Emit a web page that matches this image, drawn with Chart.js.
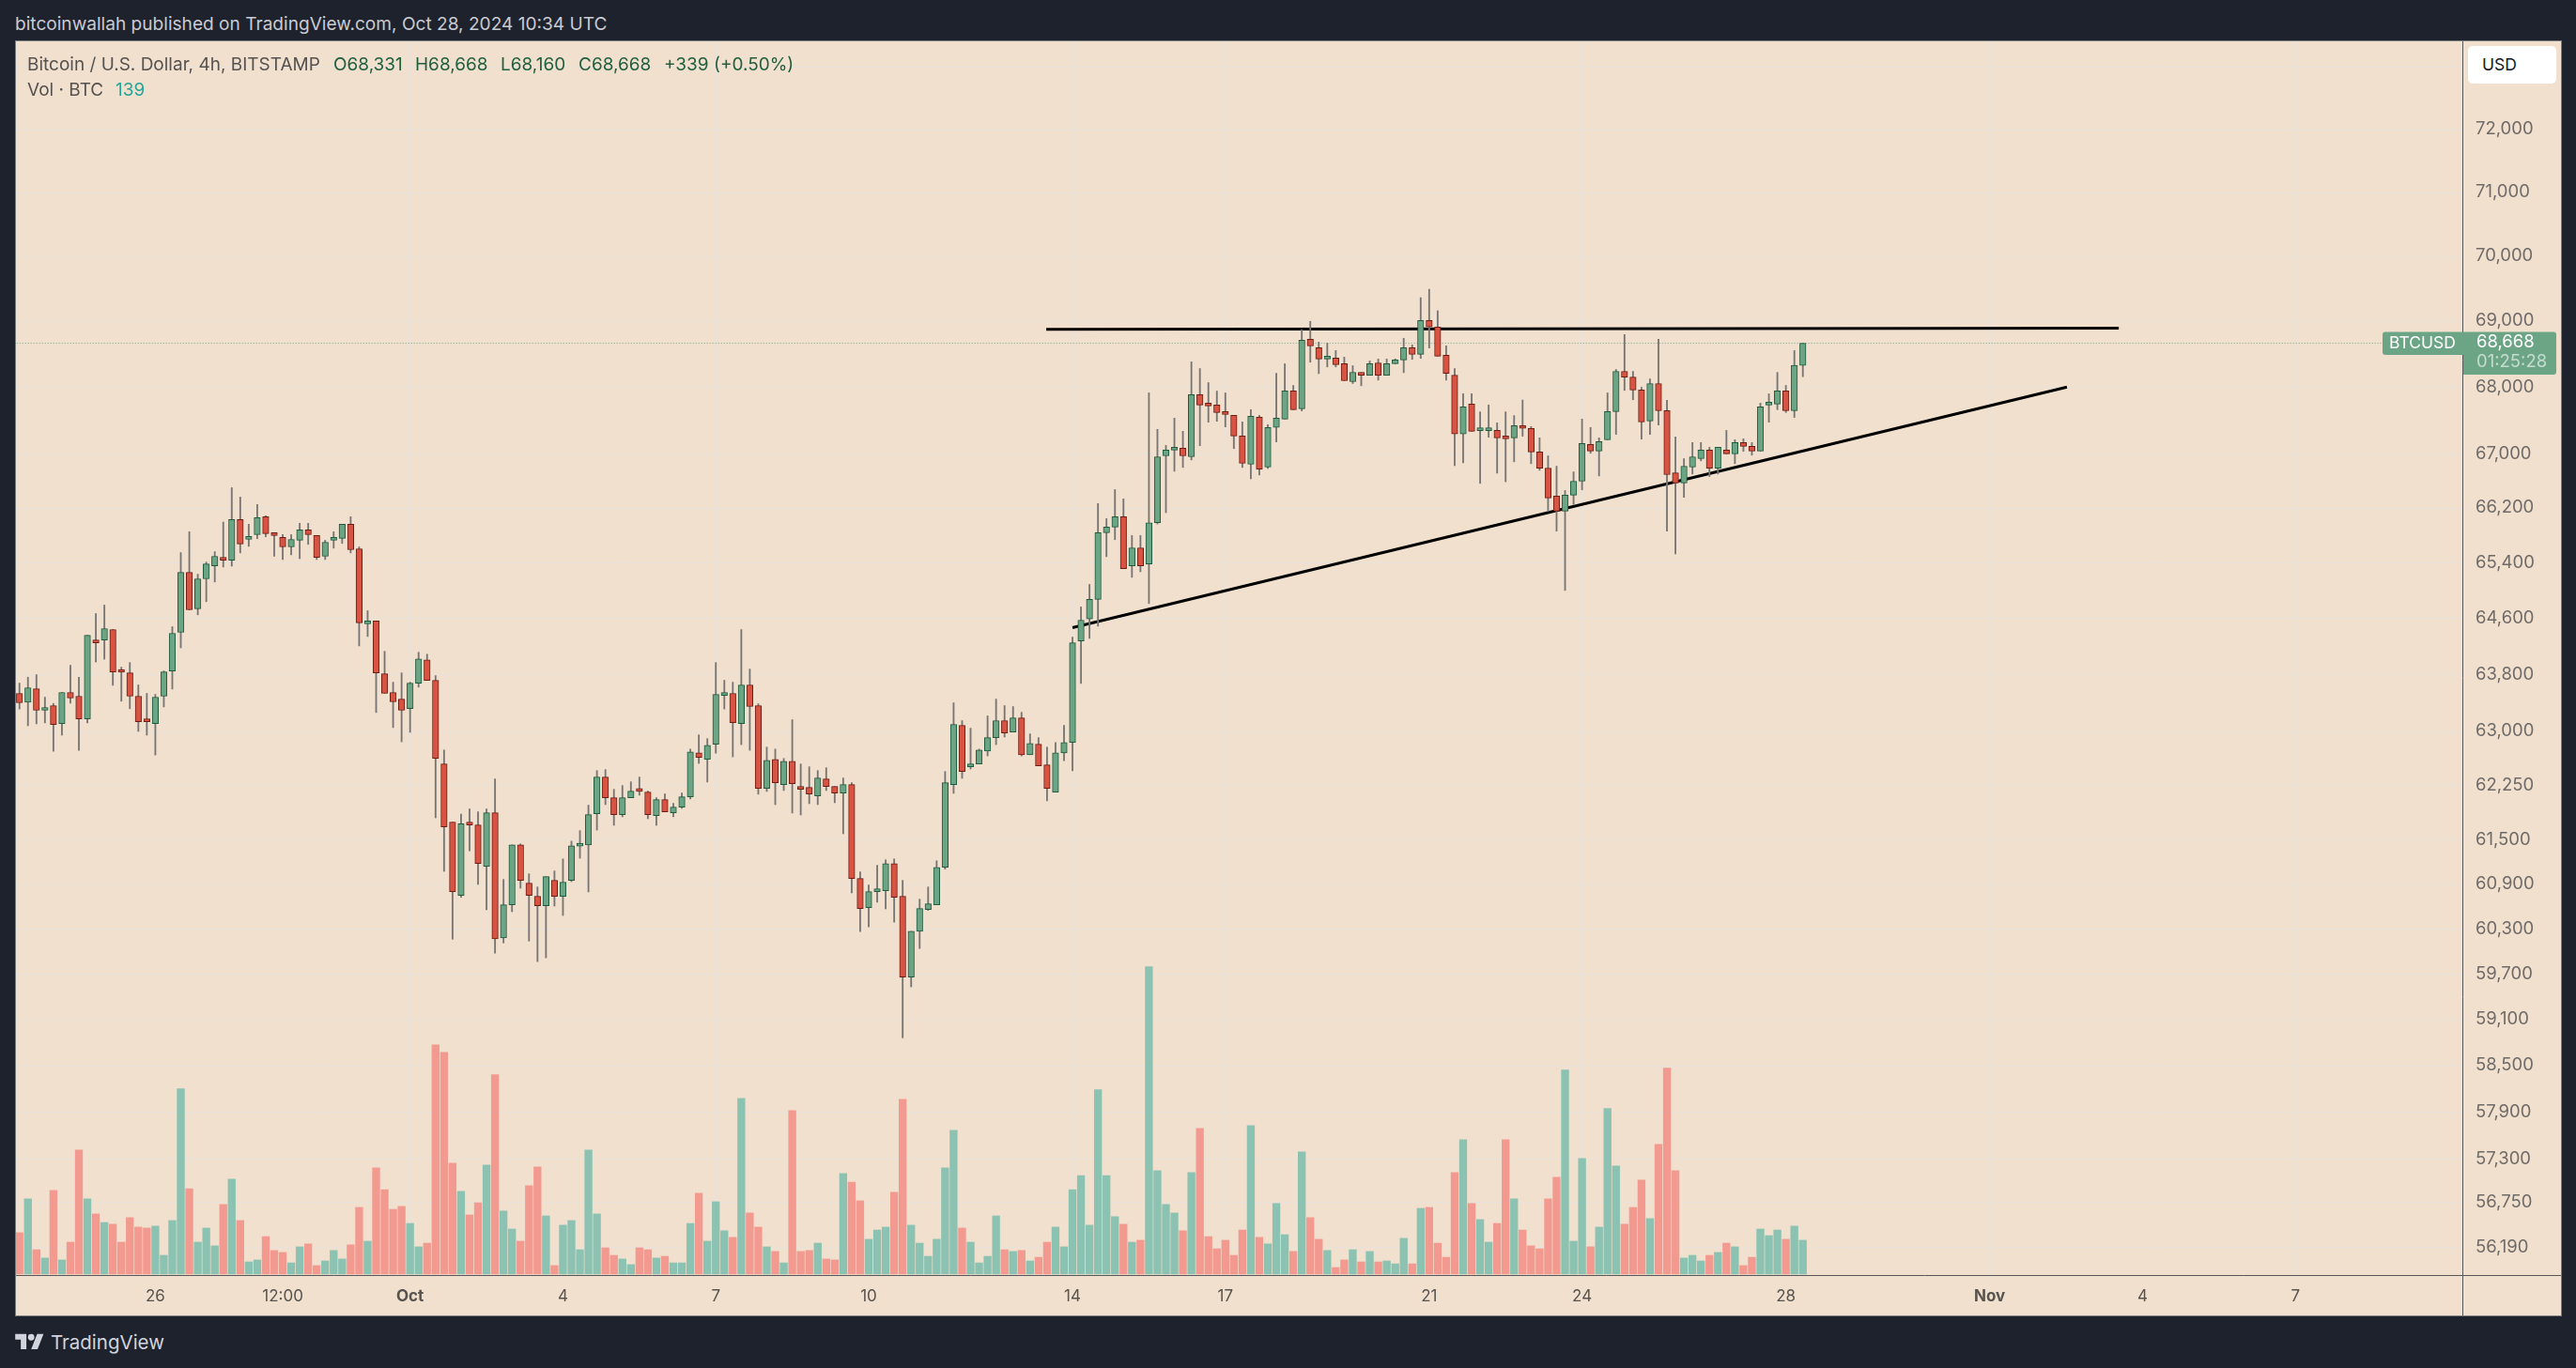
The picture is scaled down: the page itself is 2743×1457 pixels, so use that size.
<!DOCTYPE html>
<html>
<head>
  <title>Bitcoin / U.S. Dollar, 4h, BITSTAMP</title>
  <script src="https://cdn.jsdelivr.net/npm/chart.js"></script>
  <style>
    html, body { margin: 0; padding: 0; width: 2743px; height: 1457px; overflow: hidden; background: #1e222d; font-family: Inter, sans-serif; }
    #frame { position: absolute; left: 16px; top: 43px; width: 2710px; height: 1357px; border: 1px solid #7a7d80; background: #f2e0cf; }
    #myChart { position: absolute; left: 0; top: 0; }
    #published { position: absolute; left: 16px; top: 14px; font-size: 19.1px; line-height: 22px; color: #c9cbd3; white-space: pre; }
    .legend { position: absolute; left: 12px; font-size: 19px; line-height: 22px; color: #55524f; white-space: pre; }
    .legend b { font-weight: normal; position: absolute; top: 0; color: #1f5f3e; }
    #usd { position: absolute; left: 2611px; top: 5px; width: 94px; height: 40px; background: #fff; border-radius: 5px; color: #131722; font-size: 17.5px; line-height: 40px; text-indent: 15px; }
    #brand { position: absolute; left: 54px; top: 1416px; font-size: 20.5px; line-height: 28px; color: #d1d4dc; }
    #logo { position: absolute; left: 16px; top: 1420px; }
  </style>
</head>
<body>
  <div id="published">bitcoinwallah published on TradingView.com, Oct 28, 2024 10:34 UTC</div>
  <div id="frame">
    <canvas id="myChart" width="2710" height="1357"></canvas>
    <div class="legend" style="top:14px">Bitcoin / U.S. Dollar, 4h, BITSTAMP<b style="left:326px">O68,331</b><b style="left:413px">H68,668</b><b style="left:504px">L68,160</b><b style="left:587px">C68,668</b><b style="left:678px">+339 (+0.50%)</b></div>
    <div class="legend" style="top:41px">Vol · BTC<b style="left:94px;color:#26a69a">139</b></div>
    <div id="usd">USD</div>
  </div>
  <svg id="logo" width="31" height="17" viewBox="0 0 36 20"><path fill="#d1d4dc" d="M14 20H7V8H0V1h14zM28 20h-8l7.5-19h8z"/><circle fill="#d1d4dc" cx="20" cy="5" r="4"/></svg>
  <div id="brand">TradingView</div>

  <script>
    // 4h candles, Sep 23 08:00 to Oct 28 08:00
    const opens = [
      63537,63413,63603,63299,63365,63114,63550,63497,63180,64295,
      64295,64443,63840,63827,63497,63180,63114,63497,63854,64403,
      65266,64740,65172,65360,65484,65442,66035,65745,65814,66076,
      65814,65773,65635,65732,65883,65800,65498,65732,65759,65966,
      65608,64524,64565,63814,63550,63457,63325,63682,64012,63722,
      62550,61749,60753,61735,61709,61146,61877,60183,60627,61438,
      60918,60741,60614,60956,60741,60956,61421,61438,61864,62369,
      62084,61851,62084,62175,62162,61838,62058,61877,61955,62097,
      62705,62614,62823,63510,63537,63114,63655,63365,62213,62614,
      62265,62588,62239,62226,62110,62343,62239,62149,62265,60981,
      60589,60804,60817,61184,60741,59661,60272,60563,60627,61133,
      62265,63088,62511,62550,62731,62916,63154,62995,63193,62679,
      62824,62537,62162,62705,62850,64281,64596,64875,65842,65924,
      66076,65361,65622,65388,65988,66975,67060,67088,66961,67888,
      67748,67734,67607,67579,67270,66849,67551,66807,67397,67523,
      67945,67678,68729,68600,68428,68442,68356,68085,68227,68184,
      68370,68184,68356,68414,68600,68500,69017,68916,68486,68184,
      67299,67748,67350,67350,67355,67242,67242,67411,67383,67031,
      66792,66379,66158,66393,66599,67144,67045,67214,67635,68241,
      68155,67959,67495,68057,67650,66723,66572,66807,66933,67059,
      66792,67059,67003,67172,67116,67045,67734,67748,67945,67650,
      68331
    ];
    const highs = [
      63682,63766,63801,63484,63396,63550,63933,63766,64362,64672,
      64794,64443,63907,63973,63656,63537,63523,63854,64484,65553,
      65856,65239,65415,65566,65998,66503,66365,65966,66255,66090,
      65814,65814,65814,65980,65980,65800,65732,65856,65966,66076,
      65635,64713,64565,64133,63695,63827,63695,64119,64092,63788,
      62744,61749,61857,61929,61890,61929,62343,60969,61438,61451,
      61045,60867,61007,61083,61247,61489,61632,61981,62459,62472,
      62200,62252,62304,62369,62175,62084,62136,62007,62149,62757,
      62955,62903,63973,63722,63695,64443,63880,63391,62784,62757,
      62627,63167,62550,62511,62459,62498,62239,62356,62291,61070,
      60893,61159,61235,61247,60956,60272,60703,60867,61222,62446,
      63405,63154,63048,62757,63220,63457,63365,63352,63272,62969,
      62916,62784,62850,63088,64336,64767,65091,66269,66048,66475,
      66338,65801,65801,67916,67369,67130,67537,67340,68385,68284,
      68071,67944,67916,67579,67481,67664,67579,67439,68212,68356,
      68029,68873,69002,68686,68672,68557,68457,68327,68227,68399,
      68428,68428,68430,68744,68643,69366,69495,69165,68628,68284,
      67902,67902,67631,67734,67467,67631,67575,67809,67411,67242,
      66975,66821,66461,66737,67523,67397,67242,67916,68270,68801,
      68241,68001,68127,68729,67804,67256,66933,67172,67172,67102,
      67102,67354,67214,67228,67172,67762,67902,68226,68029,68557,
      68668
    ];
    const lows = [
      63317,63083,63110,63123,62727,62951,63400,62740,63123,63981,
      64021,63651,63427,63321,63004,62951,62675,63347,63598,64182,
      64726,64654,64843,65127,65343,65356,65548,65644,65755,65782,
      65498,65452,65520,65465,65672,65452,65452,65617,65686,65548,
      64209,64344,63268,63537,63057,62859,62991,63625,63722,61808,
      61078,60166,60728,61357,60901,60559,59980,60116,60534,60850,
      60141,59868,59918,60610,60483,60939,61256,60800,61640,61989,
      61705,61821,62084,62119,61795,61705,61890,61821,61938,62067,
      62558,62300,62700,63317,62649,62819,62740,62132,62170,61989,
      62183,61873,61847,62002,61989,62183,62015,61589,60787,60268,
      60331,60660,60572,60394,58864,59533,60042,60551,60627,61108,
      62144,62351,62481,62550,62662,62819,62925,62995,62662,62679,
      62524,62041,62162,62597,62455,63678,64317,64492,65493,65741,
      65320,65194,65275,64816,65970,66136,66746,66802,66914,67125,
      67476,67490,67406,67083,66802,66636,66691,66788,67181,67523,
      67664,67645,68380,68207,68308,68308,68099,68057,68024,68184,
      68108,68184,68356,68222,68423,68437,68595,68471,68108,66830,
      66872,67340,66567,67252,66718,66591,66886,67266,66858,66760,
      66158,65865,65005,66255,66471,67013,66677,67214,67294,67954,
      67813,67223,67294,67434,65865,65534,66361,66705,66900,66668,
      66705,67003,66858,67041,66985,67045,67476,67664,67621,67547,
      68160
    ];
    const closes = [
      63405,63616,63299,63325,63101,63550,63471,63180,64362,64254,
      64457,63840,63836,63497,63140,63140,63484,63840,64389,65266,
      64726,65172,65388,65498,65442,66035,65677,65787,66062,65828,
      65800,65635,65745,65883,65814,65484,65704,65745,65966,65594,
      64538,64565,63827,63537,63418,63299,63682,64025,63722,62627,
      61684,60804,61728,61709,61184,61877,60170,60627,61438,60956,
      60753,60614,61007,60741,60931,61425,61425,61851,62369,62084,
      61851,62084,62175,62170,61851,62058,61890,61955,62097,62718,
      62640,62810,63523,63537,63127,63655,63352,62213,62601,62291,
      62588,62278,62200,62136,62356,62239,62149,62265,60981,60576,
      60804,60817,61184,60728,59661,60272,60576,60639,61133,62291,
      63101,62446,62550,62744,62916,63154,62982,63193,62679,62837,
      62524,62213,62705,62850,64255,64578,64875,65842,65924,66076,
      65320,65622,65361,65988,66961,67060,67088,66975,67888,67734,
      67720,67621,67593,67270,66863,67565,66778,67397,67537,67945,
      67664,68715,68629,68428,68442,68342,68099,68227,68184,68356,
      68184,68356,68414,68600,68500,69017,68916,68471,68212,67299,
      67706,67340,67355,67355,67242,67228,67425,67383,67031,66792,
      66351,66158,66393,66599,67158,67045,67186,67635,68241,68155,
      67959,67481,68057,67650,66696,66572,66821,66961,67059,66792,
      67102,67003,67172,67116,67045,67706,67743,67945,67650,68331,
      68668
    ];
    const volumes = [
      170,309,100,66,344,58,131,510,309,247,
      212,205,131,232,193,189,197,77,220,761,
      351,131,189,116,286,390,220,50,58,154,
      97,89,46,112,124,35,54,97,62,120,
      274,135,436,347,266,278,208,112,127,942,
      911,456,340,243,293,448,819,259,185,135,
      363,440,239,35,201,220,100,510,247,108,
      77,62,39,108,100,66,73,46,46,208,
      332,135,297,178,151,722,251,193,112,93,
      46,672,93,97,127,62,58,413,378,301,
      143,181,193,336,718,201,127,73,143,436,
      591,189,131,46,73,239,100,93,97,54,
      69,131,193,112,347,405,201,757,405,236,
      205,131,139,1263,425,286,251,178,417,598,
      154,104,139,77,181,610,151,124,290,162,
      93,502,232,143,97,27,58,100,50,93,
      50,54,42,147,42,270,274,127,69,417,
      552,290,224,131,208,552,309,181,116,104,
      309,398,838,135,475,112,193,680,444,205,
      274,386,228,533,846,425,66,77,54,77,
      89,127,112,35,69,185,158,181,143,197,
      139
    ];

    // Price axis labels (73,000 sits behind the currency box)
    const priceTicks = [73000,72000,71000,70000,69000,68000,67000,66200,65400,64600,63800,63000,
      62250,61500,60900,60300,59700,59100,58500,57900,57300,56750,56190];
    // Time axis labels, keyed by candle number
    const timeTickIndex = [16,31,46,64,82,100,124,142,166,184,208,232,250,268];
    const timeTickLabels = ['26','12:00','Oct','4','7','10','14','17','21','24','28','Nov','4','7'];
    const monthLabels = ['Oct','Nov'];

    // Trend lines drawn on the chart: candle number and price at both ends
    const resistanceX = [120.9, 247.2];
    const resistanceY = [68880, 68900];
    const supportX = [124, 241.1];
    const supportY = [64471, 68003];

    const lastPrice = 68668;
    const countdown = '01:25:28';

    const greenFill = '#6ca585', greenEdge = '#1f5a3c';
    const redFill = '#d95342', redEdge = '#6b1d14';
    const greenVol = '#8bc2b1', redVol = '#f29a8f';

    const isUp = closes.map((c, i) => c >= opens[i]);

    // Frame lines around the axes and the price tags on the right
    const paneDecor = {
      id: 'paneDecor',
      afterDraw(chart) {
        const ctx = chart.ctx;
        const area = chart.chartArea;
        const w = chart.width, h = chart.height;
        ctx.save();
        ctx.strokeStyle = '#55575a';
        ctx.lineWidth = 1;
        ctx.beginPath();
        ctx.moveTo(0, area.bottom + 0.5);
        ctx.lineTo(w, area.bottom + 0.5);
        ctx.moveTo(area.right + 0.5, 0);
        ctx.lineTo(area.right + 0.5, h);
        ctx.stroke();

        const y = chart.scales.y.getPixelForValue(lastPrice);
        ctx.fillStyle = greenFill;
        ctx.beginPath();
        ctx.roundRect(area.right - 85, y - 12, 86, 24.5, [3, 0, 0, 3]);
        ctx.fill();
        ctx.beginPath();
        ctx.roundRect(area.right + 1, y - 12, 99, 45.5, [0, 3, 3, 0]);
        ctx.fill();
        ctx.textBaseline = 'middle';
        ctx.textAlign = 'left';
        ctx.font = '17.5px Inter';
        ctx.fillStyle = '#ffffff';
        ctx.fillText('BTCUSD', area.right - 78, y + 0.5);
        ctx.font = '18.5px Inter';
        ctx.fillText(lastPrice.toLocaleString('en-US'), area.right + 15, y - 1);
        ctx.fillStyle = 'rgba(255,255,255,0.6)';
        ctx.fillText(countdown, area.right + 15, y + 20);
        ctx.restore();
      }
    };

    // Keep the tick labels from pulling the plot area inwards
    function noAxisPadding(axis) {
      axis.paddingTop = axis.paddingBottom = axis.paddingLeft = axis.paddingRight = 0;
    }

    const ctx = document.getElementById('myChart').getContext('2d');
    const myChart = new Chart(ctx, {
      type: 'bar',
      data: {
        datasets: [
          {
            label: 'Vol',
            yAxisID: 'vol',
            order: 6,
            data: volumes.map((v, i) => ({ x: i, y: v })),
            backgroundColor: isUp.map(up => up ? greenVol : redVol),
            barThickness: 7.7
          },
          {
            type: 'line',
            label: 'Last',
            order: 5,
            data: [{ x: -1, y: lastPrice }, { x: 288, y: lastPrice }],
            borderColor: greenFill,
            borderWidth: 1,
            borderDash: [1, 2],
            pointRadius: 0
          },
          {
            type: 'line',
            label: 'Resistance',
            order: 4,
            data: resistanceX.map((x, i) => ({ x: x, y: resistanceY[i] })),
            borderColor: '#000000',
            borderWidth: 3,
            pointRadius: 0
          },
          {
            type: 'line',
            label: 'Support',
            order: 4,
            data: supportX.map((x, i) => ({ x: x, y: supportY[i] })),
            borderColor: '#000000',
            borderWidth: 3,
            pointRadius: 0
          },
          {
            label: 'Range',
            order: 3,
            data: highs.map((hi, i) => ({ x: i, y: [lows[i], hi] })),
            backgroundColor: '#787674',
            barThickness: 1.2
          },
          {
            label: 'Body',
            order: 2,
            data: opens.map((o, i) => ({ x: i, y: [o, closes[i]] })),
            backgroundColor: isUp.map(up => up ? greenFill : redFill),
            borderColor: isUp.map(up => up ? greenEdge : redEdge),
            borderWidth: 1,
            borderSkipped: false,
            barThickness: 6.6,
            minBarLength: 3
          }
        ]
      },
      options: {
        responsive: false,
        animation: false,
        events: [],
        layout: { padding: 0 },
        datasets: { bar: { grouped: false } },
        plugins: { legend: { display: false }, tooltip: { enabled: false } },
        scales: {
          x: {
            type: 'linear',
            offset: false,
            bounds: 'data',
            min: -0.41,
            max: 287.66,
            afterBuildTicks(axis) { axis.ticks = timeTickIndex.map(v => ({ value: v })); },
            afterFit(axis) { axis.height = 43; noAxisPadding(axis); },
            grid: { color: '#e9e2da', drawTicks: false, offset: false },
            border: { display: false },
            ticks: {
              autoSkip: false,
              maxRotation: 0,
              padding: 13,
              color: '#57544f',
              font: ctx => ({
                family: 'Inter',
                size: 17,
                weight: monthLabels.includes(timeTickLabels[ctx.index]) ? 'bold' : 'normal'
              }),
              callback: (v) => timeTickLabels[timeTickIndex.indexOf(v)]
            }
          },
          y: {
            type: 'logarithmic',
            position: 'right',
            bounds: 'data',
            min: 55847,
            max: 73424,
            afterBuildTicks(axis) { axis.ticks = priceTicks.map(v => ({ value: v })); },
            afterFit(axis) { axis.width = 105; noAxisPadding(axis); },
            grid: { color: '#e9e2da', drawTicks: false },
            border: { display: false },
            ticks: {
              autoSkip: false,
              padding: 14,
              labelOffset: -0.5,
              color: '#6f6b68',
              font: { family: 'Inter', size: 18.5 },
              callback: v => v === 73000 ? '' : v.toLocaleString('en-US')
            }
          },
          vol: {
            type: 'linear',
            display: false,
            min: -4,
            max: 5064,
            afterFit: noAxisPadding
          }
        }
      },
      plugins: [paneDecor]
    });
  </script>
</body>
</html>
